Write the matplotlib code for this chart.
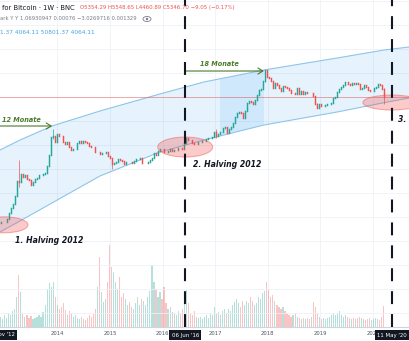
import numpy as np
import pandas as pd
import matplotlib
matplotlib.use('Agg')
import matplotlib.pyplot as plt
import matplotlib.dates as mdates
from matplotlib.colors import to_rgba
from matplotlib.patches import Ellipse
from matplotlib.ticker import NullLocator
from matplotlib.transforms import ScaledTranslation, blended_transform_factory

# BNC Bitcoin, 2-week candles starting at the first halving
candle_start = '2012-11-26'
first_open = 12.4
closes = [
    13.4, 13.4, 13.5, 15.4, 20.4, 25.9, 31.0, 47.0, 93.0, 90.0, 134, 117, 129, 103, 98,
    77, 92, 104, 112, 126, 127, 132, 140, 196, 335, 800, 810, 620, 900,
    830, 820, 620, 570, 630, 480, 420, 440, 440, 575, 655, 595, 635, 625, 590, 500,
    480, 475, 375, 375, 350, 365, 365, 375, 320, 285,
    210, 225, 235, 275, 260, 245, 220, 235, 240, 237, 228, 245, 270, 275, 280, 230,
    230, 230, 240, 255, 290, 370, 325, 395, 440, 435,
    380, 375, 400, 435, 410, 420, 425, 465, 455, 445, 575, 750, 675, 665, 600, 570,
    570, 605, 605, 640, 655, 705, 735, 765, 790, 1000,
    820, 920, 1000, 1180, 1240, 960, 1170, 1250, 1560, 2050, 2520, 2550, 2500, 1930,
    2730, 4050, 4350, 4200, 3780, 4700, 6000, 7400, 7800, 11500, 19100, 13800,
    13500, 11600, 8100, 10300, 9600, 8400, 7000, 8900, 8600, 8200, 7500, 6400, 6400,
    6300, 8200, 6300, 7000, 6200, 6700, 6600, 6400, 6400, 5500, 3800, 3200, 3850,
    3500, 3550, 3600, 3850, 3850, 3950, 5050, 5300, 6900, 8000, 8700, 9300, 10800,
    10200, 9500, 10300, 10100, 10300, 10000, 7800, 8300, 9300, 8500, 7400, 7200, 7300,
    8200, 8600, 9900, 9700, 7950, 5346.70,
]
volume = [
    10, 8, 12, 9, 14, 12, 16, 18, 30, 52, 35,
    14, 10, 12, 9, 11, 8, 9, 10, 12, 10, 15, 22, 38, 44, 40, 45, 30, 22,
    18, 20, 24, 17, 12, 16, 14, 10, 12, 9, 8, 10, 8, 7, 9, 12, 10, 14, 18,
    40, 70, 35, 25, 28, 45, 82, 60, 55, 45, 38, 50, 30, 34, 28,
    22, 25, 20, 18, 24, 30, 22, 28, 26, 22, 30, 36, 62, 45, 38,
    30, 35, 28, 40, 24, 18, 20, 15, 14, 12, 16, 14, 18, 25, 37, 24,
    14, 12, 16, 10, 9, 10, 8, 10, 12, 9, 14, 12, 20,
    14, 15, 12, 16, 18, 14, 18, 16, 22, 25, 28, 24, 20, 26,
    22, 26, 24, 30, 26, 22, 24, 30, 28, 34, 36, 45, 38, 30,
    32, 26, 22, 20, 18, 20, 16, 14, 12, 10, 12, 14, 10, 9, 8, 9,
    8, 9, 8, 10, 25, 20, 14, 10, 8, 9,
    8, 9, 10, 12, 14, 12, 14, 16, 12, 10, 12, 10, 9, 8, 9, 8, 9, 10, 9, 8,
    7, 8, 9, 7, 8, 9, 8, 7, 10, 21,
]

# candles whose wicks reach beyond the body
wick_idx = [9, 26, 55, 92, 107, 131, 157, 190]
wick_high = [266, 1160, 290, 780, 1150, 19700, 3950, 8150]
wick_low = [70, 700, 170, 570, 760, 11000, 3150, 3850]

# regression channel
band_dates = ['2012-11-28', '2013-04-16', '2013-11-24', '2014-10-23', '2015-12-13',
              '2016-10-14', '2017-12-05', '2019-04-27', '2020-03-16', '2020-09-07']
band_upper = [421, 679, 1330, 2731, 6173, 10980, 19520, 34720, 50801.37, 58850]
band_lower = [8.23, 13.96, 33.1, 120.8, 382, 679, 1396, 2603, 4064.11, 5093]

halving_dates = ['2012-11-28', '2016-06-06', '2020-05-11']
halving_ticks = ["28 Nov '12", "06 Jun '16", "11 May '20"]
year_ticks = [2014, 2015, 2016, 2017, 2018, 2019, 2020]
last_price = 5346.70
grid_prices = [0.17, 0.53, 1.7, 5.3, 17, 53, 170, 535, 1700, 5350, 17000, 53500, 170000, 535000]

UP, DOWN = '#26a69a', '#ef5350'
GREEN = '#4b7a2a'
BAND = '#8ec5e8'


def dnum(s):
    return mdates.date2num(pd.Timestamp(s))


W, H = 409, 341
fig = plt.figure(figsize=(W / 100, H / 100), dpi=100)
rect = [0, 14 / H, 1, 327 / H]
ax_vol = fig.add_axes(rect)
ax = fig.add_axes(rect, sharex=ax_vol)
ax.patch.set_alpha(0)

ax.set_yscale('log')
ax.set_xlim(dnum('2012-11-28'), dnum('2020-09-07'))
ax.set_ylim(10 ** -1.064, 10 ** 5.749)
ax.set_autoscale_on(False)
ax_vol.set_ylim(0, 327)

# candles
x = mdates.date2num(pd.date_range(candle_start, periods=len(closes), freq='14D')
                    + pd.Timedelta(days=7))
closes = np.array(closes, dtype=float)
opens = np.concatenate([[first_open], closes[:-1]])
highs = np.maximum(opens, closes)
lows = np.minimum(opens, closes)
highs[wick_idx] = wick_high
lows[wick_idx] = wick_low
colors = np.where(closes >= opens, UP, DOWN)

ax.vlines(x, lows, highs, colors=colors, lw=0.5, zorder=3)
ax.vlines(x, opens, closes, colors=colors, lw=1.05, capstyle='projecting', zorder=3)

vol_colors = [to_rgba(c, 0.34) for c in colors]
ax_vol.bar(x, volume, width=8, color=vol_colors, lw=0)

# channel
bx = [dnum(d) for d in band_dates]
band = ax.fill_between(bx, band_lower, band_upper, color='#2196f3', alpha=0.11, lw=0, zorder=1)
ax.plot(bx, band_upper, color=BAND, lw=0.8, zorder=2)
ax.plot(bx, band_lower, color=BAND, lw=0.8, zorder=2)
span = ax.axvspan(dnum('2017-01-31'), dnum('2017-12-05'), color='#2196f3', alpha=0.11, lw=0, zorder=1)
span.set_clip_path(band.get_paths()[0], band.get_transform())

ax.axhline(last_price, color=DOWN, lw=0.6, alpha=0.55, zorder=2)


def halo(date, price, w, h):
    tr = fig.dpi_scale_trans + ScaledTranslation(dnum(date), price, ax.transData)
    ax.add_artist(Ellipse((0, 0), w / 100, h / 100, transform=tr,
                          facecolor=to_rgba(DOWN, 0.3), edgecolor=to_rgba(DOWN, 0.5),
                          lw=0.7, zorder=4))


halo('2012-12-26', 11.6, 48, 16)
halo('2016-06-06', 485, 55, 20)
halo('2020-05-11', 4105, 58, 15)

# time to the cycle top
arrow = dict(arrowstyle='->,head_length=0.35,head_width=0.22', color=GREEN, lw=0.8,
             shrinkA=0, shrinkB=0)
ax.annotate('', xy=(dnum('2013-11-25'), 1330), xytext=(dnum('2012-11-28'), 1330),
            arrowprops=arrow, zorder=5)
ax.annotate('', xy=(dnum('2017-12-04'), 18600), xytext=(dnum('2016-06-06'), 18600),
            arrowprops=arrow, zorder=5)
lbl = dict(color=GREEN, fontsize=4.7, fontweight='bold', fontstyle='italic', va='center', zorder=5)
ax.text(dnum('2012-12-13'), 1775, '12 Monate', ha='left', **lbl)
ax.text(dnum('2017-01-29'), 26000, '18 Monate', ha='center', **lbl)

hv = dict(color='#131722', fontsize=5.6, fontweight='bold', fontstyle='italic', va='center', zorder=5)
ax.text(dnum('2013-11-03'), 5.6, '1. Halving 2012', ha='center', **hv)
ax.text(dnum('2016-07-30'), 205, '2. Halving 2012', ha='left', **hv)
ax.text(dnum('2020-06-22'), 1775, '3. Halving 2020', ha='left', clip_on=False, **hv)

for d in halving_dates[1:]:
    ax.axvline(dnum(d), color='#131722', lw=1.5, ls=(0, (6.2, 4.8)), zorder=6)

# axes styling
for a in (ax, ax_vol):
    for s in a.spines.values():
        s.set_visible(False)
ax_vol.spines['bottom'].set_visible(True)
ax_vol.spines['bottom'].set_color('#d1d4dc')
ax_vol.spines['bottom'].set_linewidth(0.8)

ax_vol.set_xticks([dnum(f'{y}-01-01') for y in year_ticks])
ax_vol.set_xticklabels([str(y) for y in year_ticks])
ax_vol.tick_params(axis='x', length=0, pad=3.2, labelsize=3.8, labelcolor='#50535e')
ax_vol.tick_params(axis='y', left=False, labelleft=False)
ax_vol.grid(axis='x', color='#eef1f7', lw=0.6)
ax_vol.set_axisbelow(True)

ax.set_yticks(grid_prices)
ax.yaxis.set_minor_locator(NullLocator())
ax.tick_params(left=False, labelleft=False, bottom=False, labelbottom=False)
ax.grid(axis='y', color='#eef1f7', lw=0.6)
ax.set_axisbelow(True)

trans = blended_transform_factory(ax.transData, ax.transAxes)
for d, t in zip(halving_dates, halving_ticks):
    ax.text(dnum(d), -8 / 327, t, transform=trans, ha='center', va='center', fontsize=3.9,
            color='white', clip_on=False, zorder=7,
            bbox=dict(boxstyle='square,pad=0.45', fc='#131722', ec='none'))

# legend header
def fy(py):
    return 1 - py / H


fig.text(2 / W, fy(8), 'for Bitcoin · 1W · BNC', fontsize=4.9, color='#131722', va='center')
fig.text(80 / W, fy(8), 'O5354.29 H5548.65 L4460.89 C5346.70 −9.05 (−0.17%)',
         fontsize=3.9, color=DOWN, va='center')
fig.text(0, fy(19), 'ark Y Y 1.06930947 0.00076 −3.0269716 0.001329',
         fontsize=3.8, color='#787b86', va='center')
fig.text(0, fy(32), '1.37 4064.11 50801.37 4064.11', fontsize=4.2, color='#4aa3df', va='center')
fig.add_artist(Ellipse((147 / W, fy(19)), 8 / W, 5 / H, transform=fig.transFigure,
                       fc='none', ec='#787b86', lw=0.6))
fig.add_artist(Ellipse((147 / W, fy(19)), 2.4 / W, 2.4 / H, transform=fig.transFigure,
                       fc='#787b86', ec='none'))

fig.savefig('out.png', dpi=100)
